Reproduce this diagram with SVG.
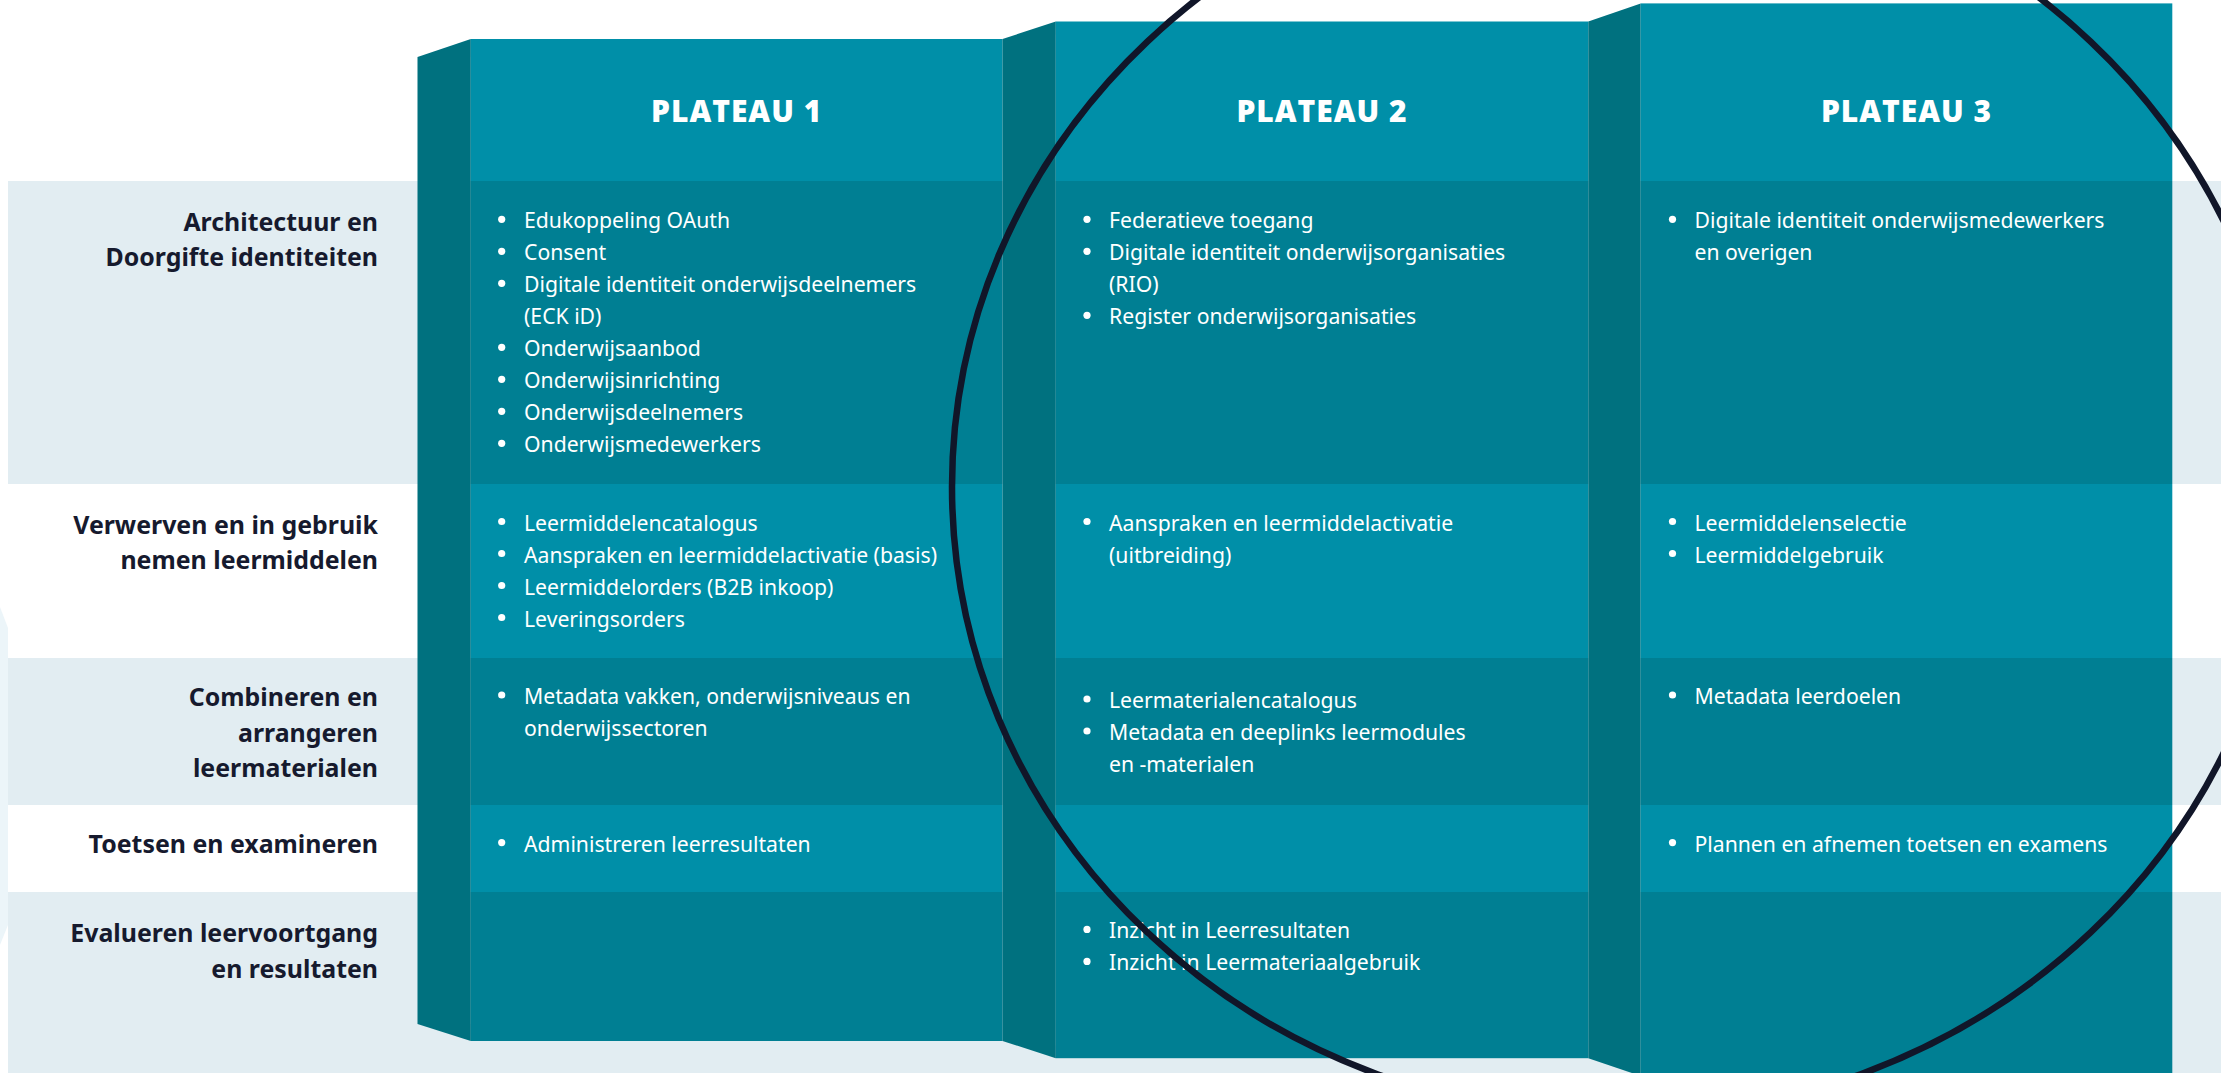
<svg xmlns="http://www.w3.org/2000/svg" width="2221" height="1073" viewBox="0 0 2221 1073">
<style>
.band{fill:#e2edf2}
.edge{fill:#ecf5f9}
.side{fill:#00717f}
.hl{fill:#008fa8}
.dk{fill:#007f93}
.title{font-family:"Open Sans","Noto Sans",sans-serif;font-weight:800;font-size:30px;fill:#ffffff;text-anchor:middle;letter-spacing:1px}
.lbl{font-family:"Noto Sans","Open Sans",sans-serif;font-weight:700;font-size:24.9px;fill:#161a2e;text-anchor:end}
.it{font-family:"Noto Sans","Open Sans",sans-serif;font-size:21.2px;fill:#ffffff}
.dot{fill:#ffffff}
.ring{fill:none;stroke:#111629;stroke-width:6.5}
</style>
<rect width="2221" height="1073" fill="#ffffff"/>
<g id="bands">
<polygon class="edge" points="0,607 8,628 8,925 0,945"/>
<rect class="band" x="8" y="181" width="2213" height="303"/>
<rect class="band" x="8" y="658" width="2213" height="147"/>
<rect class="band" x="8" y="892" width="2213" height="181"/>
</g>
<g id="labels">
<g id="label-architectuur"><text class="lbl" x="378" y="230.5">Architectuur en</text><text class="lbl" x="378" y="266">Doorgifte identiteiten</text></g>
<g id="label-verwerven"><text class="lbl" x="378" y="533.5">Verwerven en in gebruik</text><text class="lbl" x="378" y="569">nemen leermiddelen</text></g>
<g id="label-combineren"><text class="lbl" x="378" y="706">Combineren en</text><text class="lbl" x="378" y="741.5">arrangeren</text><text class="lbl" x="378" y="777">leermaterialen</text></g>
<g id="label-toetsen"><text class="lbl" x="378" y="852.5">Toetsen en examineren</text></g>
<g id="label-evalueren"><text class="lbl" x="378" y="942">Evalueren leervoortgang</text><text class="lbl" x="378" y="977.5">en resultaten</text></g>
</g>
<g id="plateau1">
<polygon class="side" points="417.5,57 470.8,39 470.8,1041 417.5,1024"/>
<rect class="hl" x="470.8" y="39" width="531.7" height="142"/>
<rect class="dk" x="470.8" y="181" width="531.7" height="303"/>
<rect class="hl" x="470.8" y="484" width="531.7" height="174"/>
<rect class="dk" x="470.8" y="658" width="531.7" height="147"/>
<rect class="hl" x="470.8" y="805" width="531.7" height="87"/>
<rect class="dk" x="470.8" y="892" width="531.7" height="149"/>
<text class="title" x="736.6" y="122.3">PLATEAU 1</text>
<g class="dot">
<circle cx="501.7" cy="219.3" r="3.6"/><circle cx="501.7" cy="251.3" r="3.6"/><circle cx="501.7" cy="283.3" r="3.6"/><circle cx="501.7" cy="347.3" r="3.6"/><circle cx="501.7" cy="379.3" r="3.6"/><circle cx="501.7" cy="411.3" r="3.6"/><circle cx="501.7" cy="443.3" r="3.6"/>
<circle cx="501.7" cy="521.5" r="3.6"/><circle cx="501.7" cy="553.5" r="3.6"/><circle cx="501.7" cy="585.5" r="3.6"/><circle cx="501.7" cy="617.5" r="3.6"/>
<circle cx="501.7" cy="695" r="3.6"/>
<circle cx="501.7" cy="842.6" r="3.6"/>
</g>
<text class="it" x="524" y="228.3">Edukoppeling OAuth</text>
<text class="it" x="524" y="260.3">Consent</text>
<text class="it" x="524" y="292.3">Digitale identiteit onderwijsdeelnemers</text>
<text class="it" x="524" y="324.3">(ECK iD)</text>
<text class="it" x="524" y="356.3">Onderwijsaanbod</text>
<text class="it" x="524" y="388.3">Onderwijsinrichting</text>
<text class="it" x="524" y="420.3">Onderwijsdeelnemers</text>
<text class="it" x="524" y="452.3">Onderwijsmedewerkers</text>
<text class="it" x="524" y="530.5">Leermiddelencatalogus</text>
<text class="it" x="524" y="562.5">Aanspraken en leermiddelactivatie (basis)</text>
<text class="it" x="524" y="594.5">Leermiddelorders (B2B inkoop)</text>
<text class="it" x="524" y="626.5">Leveringsorders</text>
<text class="it" x="524" y="704">Metadata vakken, onderwijsniveaus en</text>
<text class="it" x="524" y="736">onderwijssectoren</text>
<text class="it" x="524" y="851.6">Administreren leerresultaten</text>
</g>
<g id="plateau2">
<polygon class="side" points="1002.5,39 1055.8,21.5 1055.8,1058.2 1002.5,1041"/>
<rect class="hl" x="1055.8" y="21.5" width="532.5" height="159.5"/>
<rect class="dk" x="1055.8" y="181" width="532.5" height="303"/>
<rect class="hl" x="1055.8" y="484" width="532.5" height="174"/>
<rect class="dk" x="1055.8" y="658" width="532.5" height="147"/>
<rect class="hl" x="1055.8" y="805" width="532.5" height="87"/>
<rect class="dk" x="1055.8" y="892" width="532.5" height="166.2"/>
<text class="title" x="1322" y="122.3">PLATEAU 2</text>
<g class="dot">
<circle cx="1087" cy="219.3" r="3.6"/><circle cx="1087" cy="251.3" r="3.6"/><circle cx="1087" cy="315.3" r="3.6"/>
<circle cx="1087" cy="521.5" r="3.6"/>
<circle cx="1087" cy="699" r="3.6"/><circle cx="1087" cy="731" r="3.6"/>
<circle cx="1087" cy="929.4" r="3.6"/><circle cx="1087" cy="961.4" r="3.6"/>
</g>
<text class="it" x="1109" y="228.3">Federatieve toegang</text>
<text class="it" x="1109" y="260.3">Digitale identiteit onderwijsorganisaties</text>
<text class="it" x="1109" y="292.3">(RIO)</text>
<text class="it" x="1109" y="324.3">Register onderwijsorganisaties</text>
<text class="it" x="1109" y="530.5">Aanspraken en leermiddelactivatie</text>
<text class="it" x="1109" y="562.5">(uitbreiding)</text>
<text class="it" x="1109" y="708">Leermaterialencatalogus</text>
<text class="it" x="1109" y="740">Metadata en deeplinks leermodules</text>
<text class="it" x="1109" y="772">en -materialen</text>
<text class="it" x="1109" y="938.4">Inzicht in Leerresultaten</text>
<text class="it" x="1109" y="970.4">Inzicht in Leermateriaalgebruik</text>
</g>
<g id="plateau3">
<polygon class="side" points="1588.3,21.5 1640.7,3.4 1640.7,1076 1588.3,1058.2"/>
<rect class="hl" x="1640.7" y="3.4" width="531.6" height="177.6"/>
<rect class="dk" x="1640.7" y="181" width="531.6" height="303"/>
<rect class="hl" x="1640.7" y="484" width="531.6" height="174"/>
<rect class="dk" x="1640.7" y="658" width="531.6" height="147"/>
<rect class="hl" x="1640.7" y="805" width="531.6" height="87"/>
<rect class="dk" x="1640.7" y="892" width="531.6" height="181"/>
<text class="title" x="1906.5" y="122.3">PLATEAU 3</text>
<g class="dot">
<circle cx="1672.5" cy="219.3" r="3.6"/>
<circle cx="1672.5" cy="521.5" r="3.6"/><circle cx="1672.5" cy="553.5" r="3.6"/>
<circle cx="1672.5" cy="695" r="3.6"/>
<circle cx="1672.5" cy="842.6" r="3.6"/>
</g>
<text class="it" x="1694.5" y="228.3">Digitale identiteit onderwijsmedewerkers</text>
<text class="it" x="1694.5" y="260.3">en overigen</text>
<text class="it" x="1694.5" y="530.5">Leermiddelenselectie</text>
<text class="it" x="1694.5" y="562.5">Leermiddelgebruik</text>
<text class="it" x="1694.5" y="704">Metadata leerdoelen</text>
<text class="it" x="1694.5" y="851.6">Plannen en afnemen toetsen en examens</text>
</g>
<g id="connectors">
<ellipse class="ring" cx="1619" cy="487" rx="667" ry="630"/>
</g>
</svg>
